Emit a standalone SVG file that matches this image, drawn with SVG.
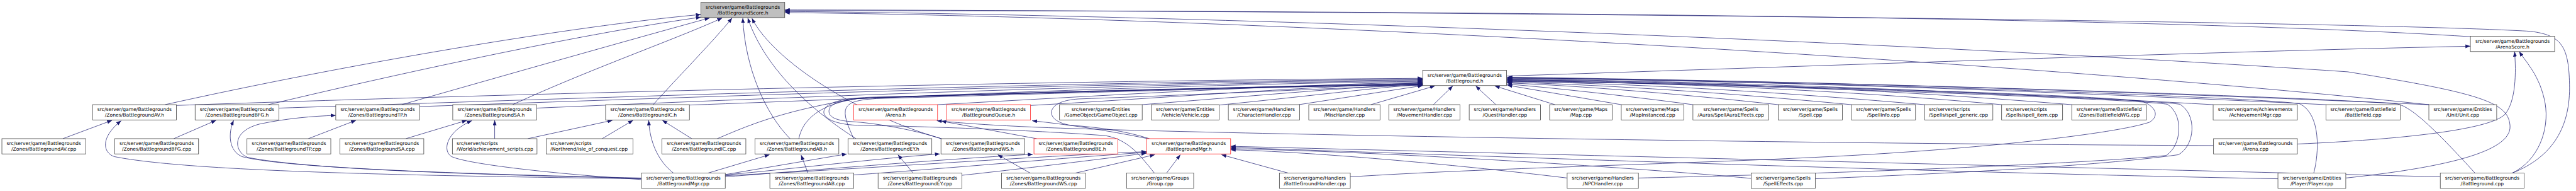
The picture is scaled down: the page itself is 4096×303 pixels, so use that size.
<svg xmlns="http://www.w3.org/2000/svg" width="4096" height="303" viewBox="0 0 4096 303">
<style>
.n rect{fill:#fff;stroke:#404040;stroke-width:1.3}
.r rect{stroke:#ff2020}
.root rect{fill:#bfbfbf}
text{font-family:"DejaVu Sans","Liberation Sans",sans-serif;font-size:12.6px;fill:#000;text-anchor:middle}
.l text{text-anchor:start}
#edges path{fill:none;stroke:#191970;stroke-width:1.2;marker-end:url(#a)}
</style>
<defs>
<marker id="a" viewBox="0 0 13 10" markerUnits="userSpaceOnUse" markerWidth="13" markerHeight="10" refX="13" refY="5" orient="auto"><path d="M0,0L13,5L0,10z" fill="#191970"/></marker>
</defs>
<rect width="4096" height="303" fill="#fff"/>
<g transform="scale(0.606)">
<g id="edges">
<path d="M433,274 C900,170 1500,68 1839,38"/>
<path d="M704,274 C1100,180 1550,85 1839,45"/>
<path d="M1054,274 C1350,190 1650,105 1862,47"/>
<path d="M1345,274 C1550,180 1780,100 1895,47"/>
<path d="M1714,274 C1780,200 1870,110 1921,47"/>
<path d="M2073,363 C2010,300 1955,180 1949,47"/>
<path d="M2246,363 C2100,270 2000,160 1962,47"/>
<path d="M2470,363 C2250,300 2030,160 1973,48"/>
<path d="M6482,96 C5600,40 3500,27 2059,28"/>
<path d="M6592,453 C6700,410 6745,330 6742,220 C6740,120 6720,92 6640,82 C6200,55 3500,27 2059,26"/>
<path d="M6155,466 C6400,440 6590,400 6586,330 C6582,270 6520,245 6160,188 C5000,110 3200,40 2059,30"/>
<path d="M6373,274 C5300,160 3300,45 2059,33"/>
<path d="M3953,199 C4800,172 5800,135 6482,121"/>
<path d="M6592,453 C6660,420 6690,340 6678,270 C6665,200 6630,165 6610,135"/>
<path d="M6028,377 C6300,365 6530,340 6572,300 C6602,265 6602,190 6598,135"/>
<path d="M463,276 C1200,250 2600,212 3733,205"/>
<path d="M732,283 C1500,258 2700,215 3733,207"/>
<path d="M1101,279 C1800,255 2800,218 3733,209"/>
<path d="M1408,283 C2000,258 2900,220 3733,211"/>
<path d="M1809,275 C2300,258 3000,222 3733,213"/>
<path d="M2460,274 C2900,250 3300,225 3733,215"/>
<path d="M2704,276 C3000,260 3400,228 3733,217"/>
<path d="M2997,274 C3300,250 3550,228 3733,219"/>
<path d="M3199,275 C3450,250 3620,228 3733,221"/>
<path d="M3408,274 L3733,224"/>
<path d="M3597,274 L3765,225"/>
<path d="M3761,274 L3812,225"/>
<path d="M3925,274 L3872,225"/>
<path d="M4080,274 L3922,225"/>
<path d="M4254,274 L3955,223"/>
<path d="M4442,274 C4300,255 4100,232 3954,220"/>
<path d="M4666,274 C4400,245 4150,225 3954,217"/>
<path d="M4858,274 C4500,240 4200,222 3954,215"/>
<path d="M5050,274 C4600,235 4250,218 3954,213"/>
<path d="M5252,274 C4800,232 4300,215 3954,211"/>
<path d="M5436,274 C4900,230 4400,212 3954,209"/>
<path d="M5807,274 C5200,240 4500,212 3954,207"/>
<path d="M6103,274 C5400,240 4600,210 3954,205"/>
<path d="M6373,274 C5600,240 4700,210 3954,204"/>
<path d="M6071,453 C6085,400 6090,300 6035,272 C5950,255 4800,215 3955,203"/>
<path d="M6494,453 C6400,350 6330,280 6290,272 C6100,255 4800,212 3955,202"/>
<path d="M4299,466 C4800,455 5450,430 5684,407 C5725,380 5730,300 5687,273 C5600,258 4500,220 3955,210"/>
<path d="M4763,468 C5100,455 5500,435 5716,405 C5760,380 5765,300 5720,273 C5620,257 4600,220 3955,208"/>
<path d="M3543,463 C3900,440 4400,430 4800,410 C5200,390 5550,350 5640,320 C5665,305 5660,280 5620,265 C5450,245 4500,218 3955,213"/>
<path d="M3029,453 C2990,405 2960,365 2900,355 C2700,340 2400,330 2250,328 C2180,325 2158,305 2162,290 C2168,268 2210,256 2300,254 C2800,242 3300,226 3733,218"/>
<path d="M2470,363 C2400,340 2300,322 2230,318 C2180,314 2172,300 2176,285 C2182,268 2220,258 2300,255 C2800,242 3300,226 3733,220"/>
<path d="M2240,363 C2230,340 2215,310 2218,290 C2222,270 2240,262 2300,258 C2800,244 3300,228 3733,221"/>
<path d="M2720,363 L2470,317"/>
<path d="M3012,363 C2900,340 2800,326 2708,316"/>
<path d="M3016,363 C2950,342 2880,333 2810,328 C2768,322 2754,302 2760,288 C2768,271 2790,262 2830,259 C3200,246 3500,230 3733,223"/>
<path d="M4112,466 C3900,440 3500,400 3229,392"/>
<path d="M4595,467 C4300,440 3700,400 3229,389"/>
<path d="M5977,468 C5000,450 3800,405 3229,386"/>
<path d="M6403,463 C5500,440 3900,400 3229,383"/>
<path d="M3380,453 L3205,405"/>
<path d="M3061,453 L3097,405"/>
<path d="M2822,453 L3030,405"/>
<path d="M2523,459 C2700,440 2900,415 3008,401"/>
<path d="M2240,458 C2500,440 2800,412 3008,399"/>
<path d="M1902,460 C2300,440 2700,410 3008,397"/>
<path d="M1683,468 C1100,460 500,450 300,410 C270,400 262,360 318,316"/>
<path d="M1683,466 C1200,455 750,440 635,410 C600,395 598,350 613,315"/>
<path d="M1683,467 C1200,456 800,442 650,412 C615,398 605,345 680,325 C750,310 820,304 881,302"/>
<path d="M1683,470 C1450,455 1230,430 1185,410 C1160,395 1170,345 1238,316"/>
<path d="M1767,453 C1725,420 1705,370 1702,315"/>
<path d="M1858,453 L2019,405"/>
<path d="M1903,457 L2222,403"/>
<path d="M1902,458 C2100,440 2300,415 2466,403"/>
<path d="M1902,463 C2200,440 2500,415 2710,404"/>
<path d="M2120,453 L2102,406"/>
<path d="M2396,453 L2356,405"/>
<path d="M2703,453 L2618,405"/>
<path d="M165,363 L294,315"/>
<path d="M456,363 L567,315"/>
<path d="M809,363 L934,315"/>
<path d="M1065,363 L1225,315"/>
<path d="M1298,363 L1298,315"/>
<path d="M1385,363 L1607,315"/>
<path d="M1580,363 L1661,315"/>
<path d="M1815,363 L1738,315"/>
<path d="M1882,363 C1960,330 2050,290 2250,258 C2700,240 3300,226 3733,222"/>
<path d="M2096,363 C2105,320 2140,275 2250,258 C2700,243 3300,227 3733,222"/>
<path d="M5808,381 C5000,378 3500,358 2800,336 C2620,330 2520,322 2458,316"/>
</g>
<g id="score" class="n root"><rect x="1839" y="6" width="220" height="40"/><text x="1949" y="22.5">src/server/game/Battlegrounds</text><text x="1949" y="37.5">/BattlegroundScore.h</text></g>
<g id="arenascore_h" class="n"><rect x="6482" y="95" width="221" height="40"/><text x="6592.5" y="111.5">src/server/game/Battlegrounds</text><text x="6592.5" y="126.5">/ArenaScore.h</text></g>
<g id="battleground_h" class="n"><rect x="3733" y="184" width="220" height="40"/><text x="3843" y="200.5">src/server/game/Battlegrounds</text><text x="3843" y="215.5">/Battleground.h</text></g>
<g id="av_h" class="n"><rect x="243" y="274" width="220" height="40"/><text x="353" y="290.5">src/server/game/Battlegrounds</text><text x="353" y="305.5">/Zones/BattlegroundAV.h</text></g>
<g id="bfg_h" class="n"><rect x="512" y="274" width="220" height="40"/><text x="622" y="290.5">src/server/game/Battlegrounds</text><text x="622" y="305.5">/Zones/BattlegroundBFG.h</text></g>
<g id="tp_h" class="n"><rect x="881" y="274" width="220" height="40"/><text x="991" y="290.5">src/server/game/Battlegrounds</text><text x="991" y="305.5">/Zones/BattlegroundTP.h</text></g>
<g id="sa_h" class="n"><rect x="1188" y="274" width="220" height="40"/><text x="1298" y="290.5">src/server/game/Battlegrounds</text><text x="1298" y="305.5">/Zones/BattlegroundSA.h</text></g>
<g id="ic_h" class="n"><rect x="1589" y="274" width="220" height="40"/><text x="1699" y="290.5">src/server/game/Battlegrounds</text><text x="1699" y="305.5">/Zones/BattlegroundIC.h</text></g>
<g id="arena_h" class="n r"><rect x="2240" y="274" width="220" height="40"/><text x="2350" y="290.5">src/server/game/Battlegrounds</text><text x="2350" y="305.5">/Arena.h</text></g>
<g id="queue_h" class="n r"><rect x="2484" y="274" width="220" height="40"/><text x="2594" y="290.5">src/server/game/Battlegrounds</text><text x="2594" y="305.5">/BattlegroundQueue.h</text></g>
<g id="gameobject_cpp" class="n"><rect x="2780" y="274" width="217" height="40"/><text x="2888.5" y="290.5">src/server/game/Entities</text><text x="2888.5" y="305.5">/GameObject/GameObject.cpp</text></g>
<g id="vehicle_cpp" class="n"><rect x="3021" y="274" width="178" height="40"/><text x="3110" y="290.5">src/server/game/Entities</text><text x="3110" y="305.5">/Vehicle/Vehicle.cpp</text></g>
<g id="characterhandler_cpp" class="n"><rect x="3223" y="274" width="187" height="40"/><text x="3316.5" y="290.5">src/server/game/Handlers</text><text x="3316.5" y="305.5">/CharacterHandler.cpp</text></g>
<g id="mischandler_cpp" class="n"><rect x="3434" y="274" width="187" height="40"/><text x="3527.5" y="290.5">src/server/game/Handlers</text><text x="3527.5" y="305.5">/MiscHandler.cpp</text></g>
<g id="movementhandler_cpp" class="n"><rect x="3644" y="274" width="187" height="40"/><text x="3737.5" y="290.5">src/server/game/Handlers</text><text x="3737.5" y="305.5">/MovementHandler.cpp</text></g>
<g id="questhandler_cpp" class="n"><rect x="3855" y="274" width="187" height="40"/><text x="3948.5" y="290.5">src/server/game/Handlers</text><text x="3948.5" y="305.5">/QuestHandler.cpp</text></g>
<g id="map_cpp" class="n"><rect x="4066" y="274" width="164" height="40"/><text x="4148" y="290.5">src/server/game/Maps</text><text x="4148" y="305.5">/Map.cpp</text></g>
<g id="mapinstanced_cpp" class="n"><rect x="4254" y="274" width="164" height="40"/><text x="4336" y="290.5">src/server/game/Maps</text><text x="4336" y="305.5">/MapInstanced.cpp</text></g>
<g id="spellauraeffects_cpp" class="n"><rect x="4442" y="274" width="199" height="40"/><text x="4541.5" y="290.5">src/server/game/Spells</text><text x="4541.5" y="305.5">/Auras/SpellAuraEffects.cpp</text></g>
<g id="spell_cpp" class="n"><rect x="4666" y="274" width="168" height="40"/><text x="4750" y="290.5">src/server/game/Spells</text><text x="4750" y="305.5">/Spell.cpp</text></g>
<g id="spellinfo_cpp" class="n"><rect x="4858" y="274" width="168" height="40"/><text x="4942" y="290.5">src/server/game/Spells</text><text x="4942" y="305.5">/SpellInfo.cpp</text></g>
<g id="spell_generic_cpp" class="n l"><rect x="5050" y="274" width="179" height="40"/><text x="5061" y="290.5">src/server/scripts</text><text x="5061" y="305.5">/Spells/spell_generic.cpp</text></g>
<g id="spell_item_cpp" class="n l"><rect x="5252" y="274" width="160" height="40"/><text x="5263" y="290.5">src/server/scripts</text><text x="5263" y="305.5">/Spells/spell_item.cpp</text></g>
<g id="battlefieldwg_cpp" class="n"><rect x="5436" y="274" width="196" height="40"/><text x="5534" y="290.5">src/server/game/Battlefield</text><text x="5534" y="305.5">/Zones/BattlefieldWG.cpp</text></g>
<g id="achievementmgr_cpp" class="n"><rect x="5807" y="274" width="221" height="40"/><text x="5917.5" y="290.5">src/server/game/Achievements</text><text x="5917.5" y="305.5">/AchievementMgr.cpp</text></g>
<g id="battlefield_cpp" class="n"><rect x="6103" y="274" width="195" height="40"/><text x="6200.5" y="290.5">src/server/game/Battlefield</text><text x="6200.5" y="305.5">/Battlefield.cpp</text></g>
<g id="unit_cpp" class="n"><rect x="6373" y="274" width="178" height="40"/><text x="6462" y="290.5">src/server/game/Entities</text><text x="6462" y="305.5">/Unit/Unit.cpp</text></g>
<g id="av_cpp" class="n"><rect x="5" y="363" width="220" height="40"/><text x="115" y="379.5">src/server/game/Battlegrounds</text><text x="115" y="394.5">/Zones/BattlegroundAV.cpp</text></g>
<g id="bfg_cpp" class="n"><rect x="301" y="363" width="220" height="40"/><text x="411" y="379.5">src/server/game/Battlegrounds</text><text x="411" y="394.5">/Zones/BattlegroundBFG.cpp</text></g>
<g id="tp_cpp" class="n"><rect x="648" y="363" width="220" height="40"/><text x="758" y="379.5">src/server/game/Battlegrounds</text><text x="758" y="394.5">/Zones/BattlegroundTP.cpp</text></g>
<g id="sa_cpp" class="n"><rect x="892" y="363" width="220" height="40"/><text x="1002" y="379.5">src/server/game/Battlegrounds</text><text x="1002" y="394.5">/Zones/BattlegroundSA.cpp</text></g>
<g id="achievement_scripts_cpp" class="n l"><rect x="1187" y="363" width="222" height="40"/><text x="1198" y="379.5">src/server/scripts</text><text x="1198" y="394.5">/World/achievement_scripts.cpp</text></g>
<g id="isle_of_conquest_cpp" class="n l"><rect x="1433" y="363" width="228" height="40"/><text x="1444" y="379.5">src/server/scripts</text><text x="1444" y="394.5">/Northrend/isle_of_conquest.cpp</text></g>
<g id="ic_cpp" class="n"><rect x="1737" y="363" width="220" height="40"/><text x="1847" y="379.5">src/server/game/Battlegrounds</text><text x="1847" y="394.5">/Zones/BattlegroundIC.cpp</text></g>
<g id="ab_h" class="n"><rect x="1981" y="363" width="220" height="40"/><text x="2091" y="379.5">src/server/game/Battlegrounds</text><text x="2091" y="394.5">/Zones/BattlegroundAB.h</text></g>
<g id="ey_h" class="n"><rect x="2225" y="363" width="220" height="40"/><text x="2335" y="379.5">src/server/game/Battlegrounds</text><text x="2335" y="394.5">/Zones/BattlegroundEY.h</text></g>
<g id="ws_h" class="n"><rect x="2469" y="363" width="220" height="40"/><text x="2579" y="379.5">src/server/game/Battlegrounds</text><text x="2579" y="394.5">/Zones/BattlegroundWS.h</text></g>
<g id="be_h" class="n r"><rect x="2713" y="363" width="220" height="40"/><text x="2823" y="379.5">src/server/game/Battlegrounds</text><text x="2823" y="394.5">/Zones/BattlegroundBE.h</text></g>
<g id="battlegroundmgr_h" class="n r"><rect x="3009" y="363" width="220" height="40"/><text x="3119" y="379.5">src/server/game/Battlegrounds</text><text x="3119" y="394.5">/BattlegroundMgr.h</text></g>
<g id="arena_cpp" class="n"><rect x="5808" y="363" width="220" height="40"/><text x="5918" y="379.5">src/server/game/Battlegrounds</text><text x="5918" y="394.5">/Arena.cpp</text></g>
<g id="battlegroundmgr_cpp" class="n"><rect x="1683" y="453" width="220" height="40"/><text x="1793" y="469.5">src/server/game/Battlegrounds</text><text x="1793" y="484.5">/BattlegroundMgr.cpp</text></g>
<g id="ab_cpp" class="n"><rect x="2020" y="453" width="220" height="40"/><text x="2130" y="469.5">src/server/game/Battlegrounds</text><text x="2130" y="484.5">/Zones/BattlegroundAB.cpp</text></g>
<g id="ey_cpp" class="n"><rect x="2304" y="453" width="220" height="40"/><text x="2414" y="469.5">src/server/game/Battlegrounds</text><text x="2414" y="484.5">/Zones/BattlegroundEY.cpp</text></g>
<g id="ws_cpp" class="n"><rect x="2628" y="453" width="220" height="40"/><text x="2738" y="469.5">src/server/game/Battlegrounds</text><text x="2738" y="484.5">/Zones/BattlegroundWS.cpp</text></g>
<g id="group_cpp" class="n"><rect x="2956" y="453" width="176" height="40"/><text x="3044" y="469.5">src/server/game/Groups</text><text x="3044" y="484.5">/Group.cpp</text></g>
<g id="battlegroundhandler_cpp" class="n"><rect x="3357" y="453" width="186" height="40"/><text x="3450" y="469.5">src/server/game/Handlers</text><text x="3450" y="484.5">/BattleGroundHandler.cpp</text></g>
<g id="npchandler_cpp" class="n"><rect x="4112" y="453" width="187" height="40"/><text x="4205.5" y="469.5">src/server/game/Handlers</text><text x="4205.5" y="484.5">/NPCHandler.cpp</text></g>
<g id="spelleffects_cpp" class="n"><rect x="4595" y="453" width="168" height="40"/><text x="4679" y="469.5">src/server/game/Spells</text><text x="4679" y="484.5">/SpellEffects.cpp</text></g>
<g id="player_cpp" class="n"><rect x="5977" y="453" width="178" height="40"/><text x="6066" y="469.5">src/server/game/Entities</text><text x="6066" y="484.5">/Player/Player.cpp</text></g>
<g id="battleground_cpp" class="n"><rect x="6403" y="453" width="220" height="40"/><text x="6513" y="469.5">src/server/game/Battlegrounds</text><text x="6513" y="484.5">/Battleground.cpp</text></g>
</g>
</svg>
